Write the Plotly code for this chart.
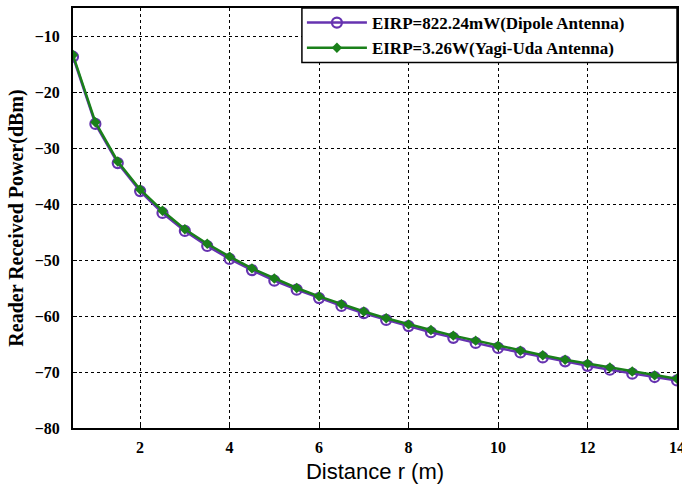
import plotly.graph_objects as go

distance = [0.5, 1.0, 1.5, 2.0, 2.5, 3.0, 3.5, 4.0, 4.5, 5.0, 5.5, 6.0, 6.5, 7.0,
            7.5, 8.0, 8.5, 9.0, 9.5, 10.0, 10.5, 11.0, 11.5, 12.0, 12.5, 13.0, 13.5, 14.0]
dipole = [-13.7, -25.7, -32.7, -37.7, -41.6, -44.8, -47.5, -49.8, -51.8, -53.7,
          -55.3, -56.8, -58.2, -59.5, -60.7, -61.8, -62.9, -63.9, -64.8, -65.7,
          -66.5, -67.4, -68.1, -68.9, -69.6, -70.3, -70.9, -71.5]
yagi = [-13.4, -25.4, -32.4, -37.4, -41.2, -44.5, -47.1, -49.4, -51.5, -53.3,
        -55.0, -56.5, -57.9, -59.2, -60.4, -61.5, -62.5, -63.5, -64.4, -65.3,
        -66.2, -67.0, -67.8, -68.5, -69.2, -69.9, -70.6, -71.2]

fig = go.Figure()
fig.add_trace(go.Scatter(
    x=distance, y=dipole, mode="lines+markers",
    name="EIRP=822.24mW(Dipole Antenna)",
    line=dict(color="#6633b0", width=2.5),
    marker=dict(symbol="circle-open", size=10, color="#6633b0", line=dict(width=2.2)),
))
fig.add_trace(go.Scatter(
    x=distance, y=yagi, mode="lines+markers",
    name="EIRP=3.26W(Yagi-Uda Antenna)",
    line=dict(color="#1a801a", width=2.5),
    marker=dict(symbol="diamond", size=8, color="#1a801a"),
))

serif = "Liberation Serif"
fig.update_layout(
    width=682, height=487,
    margin=dict(l=73, r=5, t=5, b=59),
    paper_bgcolor="white", plot_bgcolor="white",
    showlegend=True,
    legend=dict(x=0.379, y=1.007, xanchor="left", yanchor="top",
                borderwidth=0, bgcolor="rgba(0,0,0,0)",
                font=dict(family=serif, size=17, color="black", weight="bold"),
                itemwidth=60),
    shapes=[dict(type="rect", xref="paper", yref="paper", x0=0.379, x1=1, y0=0.870, y1=1,
                 line=dict(color="black", width=1.5), fillcolor="white", layer="above")],
    xaxis=dict(
        range=[0.5, 14.0001], tickvals=[2, 4, 6, 8, 10, 12, 14],
        showgrid=True, gridcolor="black", griddash="3px,3px", gridwidth=1,
        showline=True, linecolor="black", linewidth=2, mirror=True,
        ticks="inside", ticklen=4, tickcolor="black",
        tickfont=dict(family=serif, size=16, color="black", weight="bold"),
        ticklabelstandoff=4, ticklabeloverflow="allow", automargin=False,
        title=dict(text="Distance r (m)", font=dict(family="Liberation Sans", size=22, color="black"),
                   standoff=8),
        zeroline=False,
    ),
    yaxis=dict(
        range=[-80, -5], tickvals=[-80, -70, -60, -50, -40, -30, -20, -10],
        showgrid=True, gridcolor="black", griddash="3px,3px", gridwidth=1,
        showline=True, linecolor="black", linewidth=2, mirror=True,
        ticks="inside", ticklen=4, tickcolor="black",
        tickfont=dict(family=serif, size=16, color="black", weight="bold"),
        ticklabelstandoff=8, automargin=False,
        title=dict(text="Reader Received Power(dBm)",
                   font=dict(family=serif, size=20, color="black", weight="bold"),
                   standoff=6),
        zeroline=False,
    ),
)

fig.write_html("out.html")
